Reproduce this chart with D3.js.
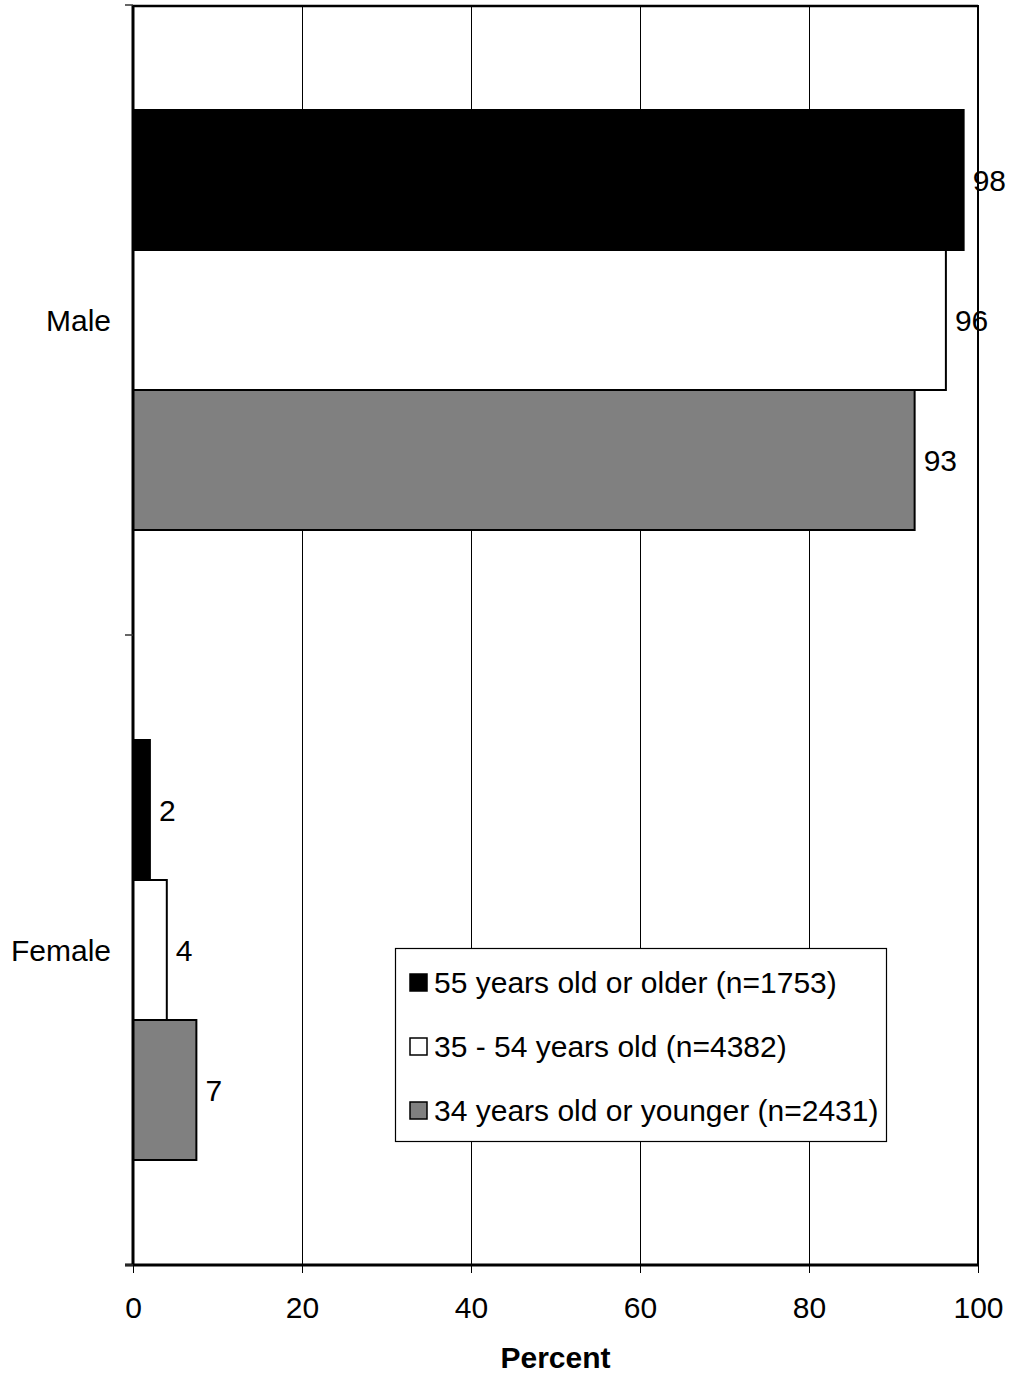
<!DOCTYPE html>
<html><head><meta charset="utf-8">
<script src="https://cdn.jsdelivr.net/npm/d3@7"></script>
<style>body{margin:0;background:#fff}svg text{font-family:"Liberation Sans",Arial,sans-serif}</style>
</head><body><svg id="c" width="1010" height="1376"></svg>
<script>
const categories = ["Male", "Female"];
const seriesNames = ["55 years old or older (n=1753)", "35 - 54 years old (n=4382)", "34 years old or younger (n=2431)"];
const seriesColors = ["#000000", "#ffffff", "#808080"];
const older = [98.3, 2.0];
const middle = [96.2, 4.0];
const younger = [92.5, 7.5];
const labelOlder = ["98", "2"];
const labelMiddle = ["96", "4"];
const labelYounger = ["93", "7"];
const xTicks = [0, 20, 40, 60, 80, 100];

const series = [older, middle, younger];
const labels = [labelOlder, labelMiddle, labelYounger];
const FS = 30;

const svg = d3.select("#c");
const L = 133, R = 978, T = 5, B = 1265;
const x = d3.scaleLinear().domain([0, 100]).range([L, R]);
const y = d3.scaleBand().domain(categories).range([T, B]);
const inner = d3.scaleBand().domain(d3.range(3)).range([0, y.bandwidth()]).paddingOuter(0.75).paddingInner(0);

// gridlines
svg.append("g").selectAll("line").data(xTicks.filter(d => d > 0 && d < 100)).join("line")
  .attr("x1", d => x(d) + 0.5).attr("x2", d => x(d) + 0.5).attr("y1", T).attr("y2", B)
  .attr("stroke", "#000").attr("stroke-width", 1);
// top and right border
svg.append("line").attr("x1", L).attr("x2", R).attr("y1", T + 1).attr("y2", T + 1).attr("stroke", "#000").attr("stroke-width", 2.5);
svg.append("line").attr("x1", R).attr("x2", R).attr("y1", T).attr("y2", B).attr("stroke", "#000").attr("stroke-width", 2);

// bars
categories.forEach((c, ci) => {
  series.forEach((s, si) => {
    const y0 = y(c) + inner(si);
    svg.append("rect").attr("x", x(0)).attr("y", y0)
      .attr("width", x(s[ci]) - x(0)).attr("height", inner.bandwidth())
      .attr("fill", seriesColors[si]).attr("stroke", "#000").attr("stroke-width", 2);
    svg.append("text").attr("x", x(s[ci]) + 9).attr("y", y0 + inner.bandwidth() / 2)
      .attr("dy", "0.35em").attr("font-size", FS).text(labels[si][ci]);
  });
});

// x axis
const xAxis = d3.axisBottom(x).tickValues(xTicks).tickSize(8).tickPadding(24);
const gx = svg.append("g").attr("transform", `translate(0,${B})`).call(xAxis);
gx.select(".domain").attr("stroke-width", 3).attr("d", `M${L - 8},0H${R}`);
gx.selectAll(".tick line").attr("stroke-width", 1);
gx.selectAll("text").attr("font-size", FS).attr("font-family", "Liberation Sans, Arial, sans-serif").attr("fill", "#000");

// y axis
svg.append("line").attr("x1", L).attr("x2", L).attr("y1", T).attr("y2", B).attr("stroke", "#000").attr("stroke-width", 3);
[T, T + y.step(), B].forEach(v => {
  svg.append("line").attr("x1", L - 8).attr("x2", L).attr("y1", v).attr("y2", v).attr("stroke", "#333").attr("stroke-width", 1.5);
});
svg.append("g").selectAll("text").data(categories).join("text")
  .attr("x", 111).attr("y", d => y(d) + y.bandwidth() / 2).attr("dy", "0.35em")
  .attr("text-anchor", "end").attr("font-size", FS).text(d => d);

// x title
svg.append("text").attr("x", (L + R) / 2).attr("y", 1368).attr("text-anchor", "middle")
  .attr("font-size", FS).attr("font-weight", "bold").text("Percent");

// legend
const lg = svg.append("g");
lg.append("rect").attr("x", 395.5).attr("y", 948.5).attr("width", 491).attr("height", 193)
  .attr("fill", "#fff").attr("stroke", "#000").attr("stroke-width", 1.2);
seriesNames.forEach((n, i) => {
  const cy = 982 + i * 64;
  lg.append("rect").attr("x", 410).attr("y", cy - 8).attr("width", 17).attr("height", 17)
    .attr("fill", seriesColors[i]).attr("stroke", "#000").attr("stroke-width", 1.5);
  lg.append("text").attr("x", 434).attr("y", cy).attr("dy", "0.35em").attr("font-size", FS).text(n);
});
</script></body></html>
